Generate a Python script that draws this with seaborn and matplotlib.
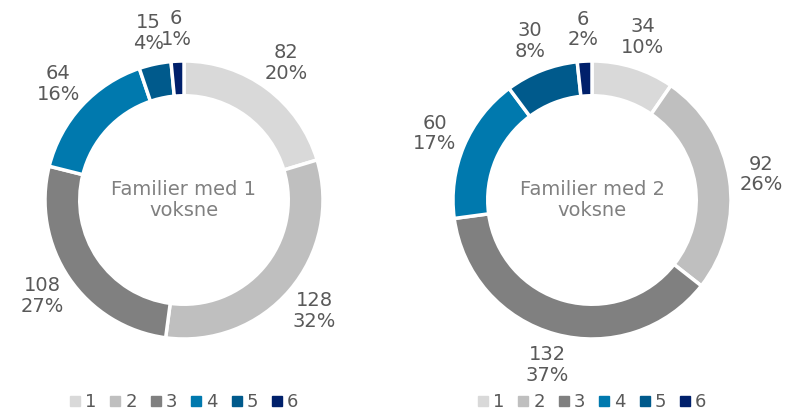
import numpy as np
import seaborn as sns
import matplotlib.pyplot as plt
from matplotlib.lines import Line2D

# ===== DATA =====
categories = ["1", "2", "3", "4", "5", "6"]
values_one = [82, 128, 108, 64, 15, 6]
values_two = [34, 92, 132, 60, 30, 6]
titles = ["Familier med 1\nvoksne", "Familier med 2\nvoksne"]

colors = ["#D9D9D9", "#BFBFBF", "#808080", "#0079AE", "#005A8C", "#00206B"]
text_color = "#595959"

sns.set_theme(style="white")
plt.rcParams['font.family'] = ['DejaVu Sans']

W, H = 788, 412
fig = plt.figure(figsize=(W / 100, H / 100), dpi=100)

R = 139  # outer radius in px
lim = 1.45
centers = [(184, 200), (592, 200)]


def draw_donut(cx, cy, vals, title):
    size = 2 * lim * R
    ax = fig.add_axes([(cx - size / 2) / W, 1 - (cy + size / 2) / H, size / W, size / H])
    total = sum(vals)
    labels = [f"{v}\n{round(v / total * 100):.0f}%" for v in vals]
    wedges, texts = ax.pie(vals, colors=colors, startangle=90, counterclock=False,
                           labels=labels, labeldistance=1.23,
                           wedgeprops=dict(width=0.25, edgecolor="white", linewidth=2.5),
                           textprops=dict(color=text_color, fontsize=14,
                                          multialignment="center", linespacing=1.1))
    for t in texts:
        t.set_ha("center")
        t.set_va("center")
    ax.text(0, 0, title, ha="center", va="center", color="#808080",
            fontsize=14, linespacing=1.1)
    ax.set_xlim(-lim, lim)
    ax.set_ylim(-lim, lim)
    ax.set_aspect("equal")
    ax.axis("off")

    handles = [Line2D([0], [0], marker="s", linestyle="none", markersize=6.5,
                      markerfacecolor=c, markeredgecolor=c) for c in colors]
    fig.legend(handles, categories, loc="center", ncol=6, frameon=False,
               bbox_to_anchor=(cx / W, 1 - 402 / H), fontsize=13,
               labelcolor=text_color, handletextpad=0.25, columnspacing=0.75,
               handlelength=0.6, borderpad=0.1)


for (cx, cy), vals, title in zip(centers, [values_one, values_two], titles):
    draw_donut(cx, cy, vals, title)

plt.savefig("out.png", dpi=100)
